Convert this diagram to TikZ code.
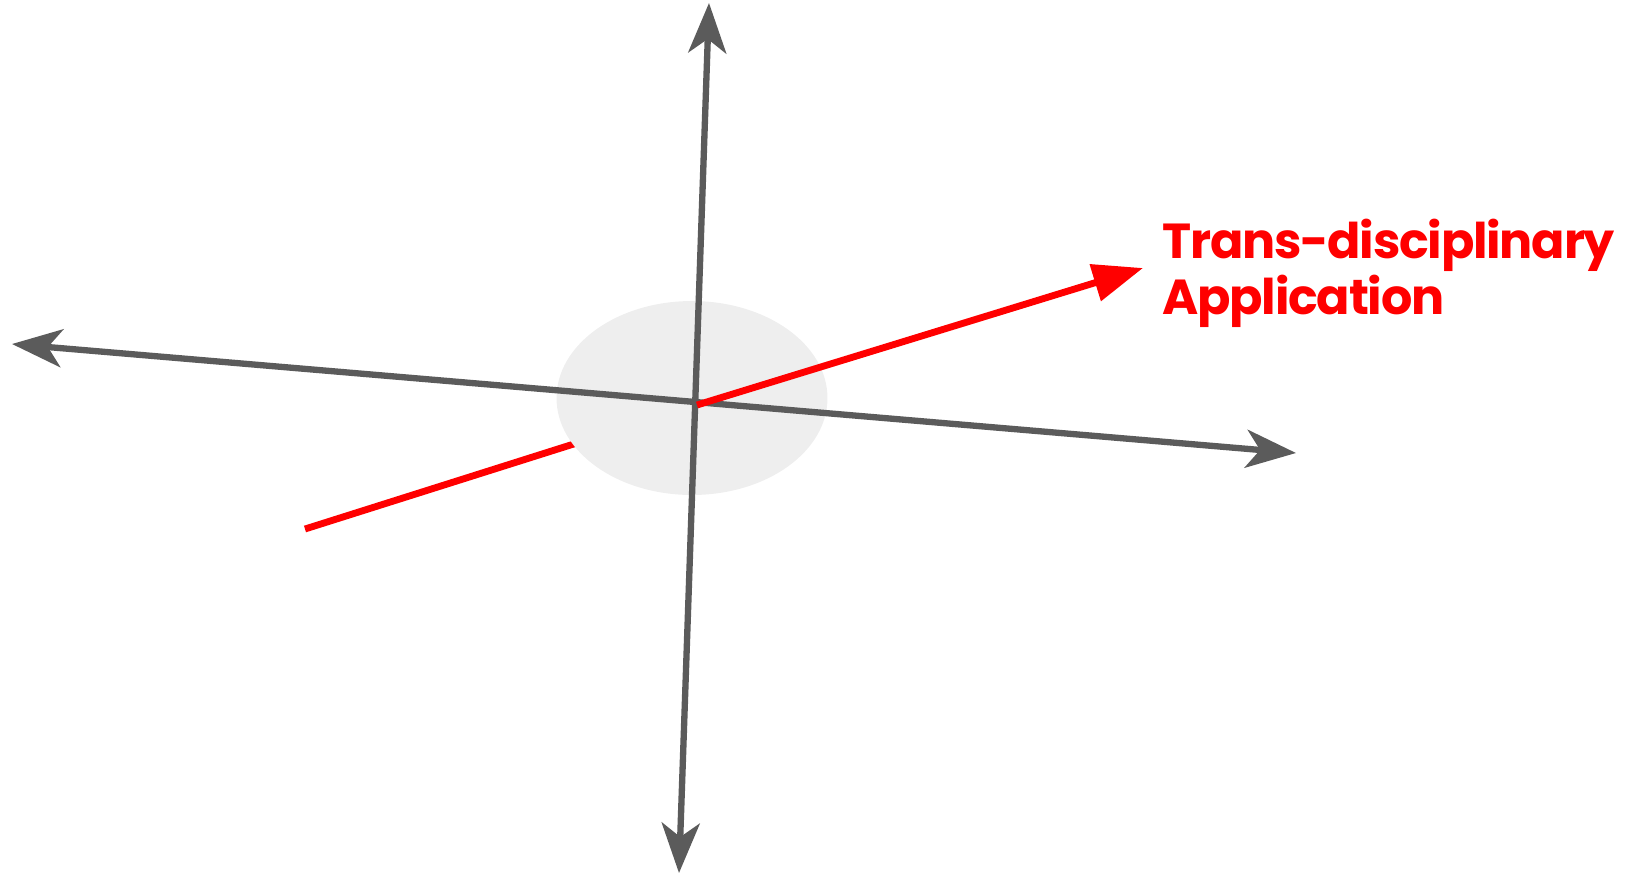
\documentclass[tikz,border=0pt]{standalone}
\usepackage{fontspec}
\setmainfont{Poppins}
\newfontfamily\lblfont[LetterSpace=-2.5]{Poppins}
\usepackage{tikz}
\usetikzlibrary{arrows.meta,positioning,shapes.geometric}
\definecolor{axGrey}{HTML}{5B5B5B}
\definecolor{axRed}{HTML}{FF0000}
\definecolor{hubFill}{HTML}{EEEEEE}

\begin{document}
\begin{tikzpicture}[x=0.02cm,y=-0.02cm,
  ax/.style={draw=axGrey,line width=3.6pt,
             {Stealth[length=1cm,width=0.76cm,inset=0.28cm]}-{Stealth[length=1cm,width=0.76cm,inset=0.28cm]}},
  rd/.style={draw=axRed,line width=3.9pt},
  lbl/.style={text=axRed,font=\lblfont\bfseries\fontsize{28pt}{32pt}\selectfont,align=left,inner sep=0pt}]
\useasboundingbox (0,0) rectangle (1634,877);
\coordinate (o)  at (697,405);
\coordinate (up) at (709,3);
\coordinate (dn) at (679,873);
\coordinate (lf) at (12,344);
\coordinate (rt) at (1296,453);
\coordinate (tail) at (305,529);
\coordinate (tip)  at (1143,268);

\draw[rd] (tail) -- (o);
\node[ellipse,fill=hubFill,minimum width=5.42cm,minimum height=3.88cm,inner sep=0pt] (hub) at (692,398) {};
\draw[ax] (lf) -- (rt);
\draw[ax] (dn) -- (up);
\draw[rd,-{Triangle[length=1cm,width=0.74cm]}] (o) -- (tip);

\node[lbl,anchor=north west] (app) at (1162,219) {Trans-disciplinary\\Application};
\end{tikzpicture}
\end{document}
